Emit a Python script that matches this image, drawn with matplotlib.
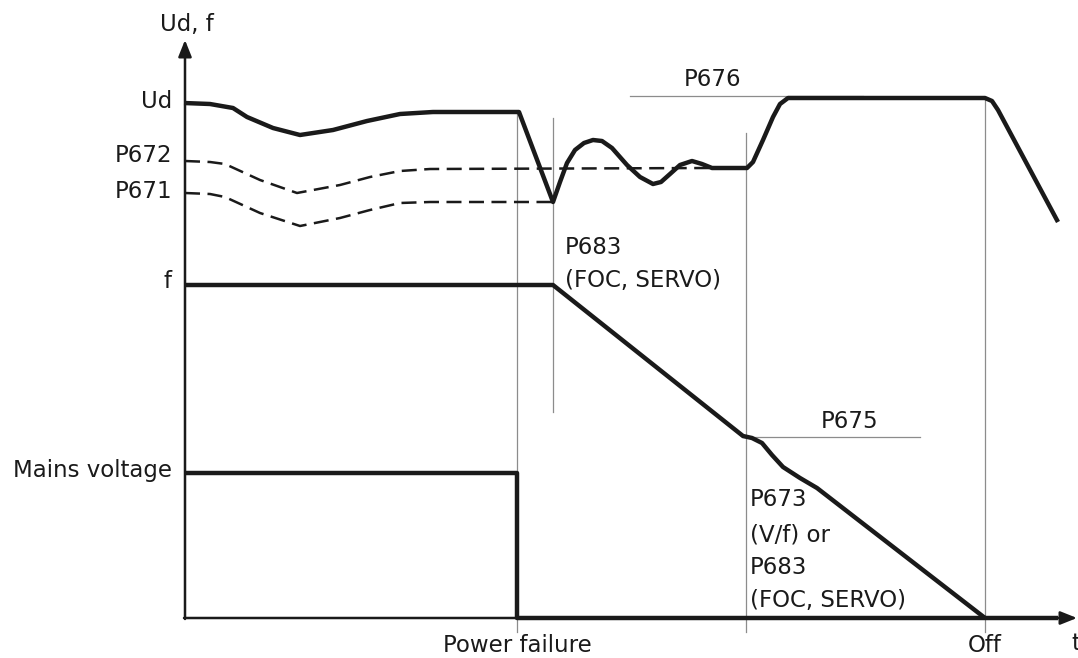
import matplotlib.pyplot as plt

plt.rcParams['font.family'] = 'DejaVu Sans'

# diagram drawn in a 1078 x 658 canvas frame (y grows downward)
# DC link voltage Ud over time
ud_t = [184, 210, 233, 247, 273, 300, 333, 367, 400, 433, 519, 553, 560, 567, 575, 584, 593, 602,
        612, 627, 640, 653, 661, 670, 680, 692, 702, 712, 747, 753, 763, 773, 780, 788, 985, 992,
        998, 1058]
ud_v = [103, 104, 108, 117, 128, 135, 130, 121, 114, 112, 112, 202, 182, 163, 150, 143, 140, 141,
        148, 165, 177, 184, 182, 174, 165, 161, 164, 168, 168, 162, 140, 117, 104, 98, 98, 101,
        110, 222]

# threshold P672 / P671 (dashed)
p672_t = [185, 210, 225, 260, 297, 340, 370, 400, 430, 710]
p672_v = [161, 162, 164, 180, 193, 185, 177, 171, 169, 168]
p671_t = [185, 210, 225, 260, 300, 340, 370, 400, 430, 553]
p671_v = [193, 194, 197, 213, 226, 218, 210, 203, 202, 202]

# output frequency f
f_t = [184, 553, 743, 752, 762, 772, 783, 800, 817, 985]
f_v = [285, 285, 436, 438, 443, 455, 467, 478, 488, 618]

# mains voltage
mains_t = [184, 517, 517, 1058]
mains_v = [473, 473, 618, 618]

# event markers (x, top, bottom)
events = [(517, 112, 632), (553, 118, 412), (746, 133, 632), (985, 98, 632)]
levels = [(630, 863, 96), (742, 920, 437)]

fig = plt.figure(figsize=(10.78, 6.58), dpi=100)
ax = fig.add_axes([0, 0, 1, 1])
ax.set_xlim(0, 1078)
ax.set_ylim(658, 0)
ax.axis('off')

gray = '#8c8c8c'
for x, y0, y1 in events:
    ax.plot([x, x], [y0, y1], color=gray, lw=0.9)
for x0, x1, y in levels:
    ax.plot([x0, x1], [y, y], color=gray, lw=0.9)

# axes with arrows
arrow = dict(arrowstyle='-|>,head_length=1.0,head_width=0.4', color='#1a1a1a', lw=1.8,
             shrinkA=0, shrinkB=0)
ax.annotate('', xy=(185, 40), xytext=(185, 619), arrowprops=arrow)
ax.annotate('', xy=(1077, 618), xytext=(184, 618), arrowprops=arrow)

dash = (0, (6, 3))
ax.plot(p672_t, p672_v, color='#1a1a1a', lw=1.8, linestyle=dash)
ax.plot(p671_t, p671_v, color='#1a1a1a', lw=1.8, linestyle=dash)

kw = dict(color='#1a1a1a', lw=3.2, solid_joinstyle='round', solid_capstyle='butt')
ax.plot(ud_t, ud_v, **kw)
ax.plot(f_t, f_v, **kw)
ax.plot(mains_t, mains_v, **kw)

fs = 16.5
tc = '#1a1a1a'
ax.text(187, 25, 'Ud, f', fontsize=fs, ha='center', va='center', color=tc)
ax.text(172, 101, 'Ud', fontsize=fs, ha='right', va='center', color=tc)
ax.text(172, 156, 'P672', fontsize=fs, ha='right', va='center', color=tc)
ax.text(172, 191, 'P671', fontsize=fs, ha='right', va='center', color=tc)
ax.text(172, 282, 'f', fontsize=fs, ha='right', va='center', color=tc)
ax.text(172, 470, 'Mains voltage', fontsize=fs, ha='right', va='center', color=tc)
ax.text(517, 645, 'Power failure', fontsize=fs, ha='center', va='center', color=tc)
ax.text(985, 645, 'Off', fontsize=fs, ha='center', va='center', color=tc)
ax.text(1071, 643, 't', fontsize=fs, ha='left', va='center', color=tc)
ax.text(713, 80, 'P676', fontsize=fs, ha='center', va='center', color=tc)
ax.text(850, 421, 'P675', fontsize=fs, ha='center', va='center', color=tc)
ax.text(565, 247, 'P683', fontsize=fs, ha='left', va='center', color=tc)
ax.text(565, 280, '(FOC, SERVO)', fontsize=fs, ha='left', va='center', color=tc)
for y, s in zip([500, 535, 568, 601], ['P673', '(V/f) or', 'P683', '(FOC, SERVO)']):
    ax.text(750, y, s, fontsize=fs, ha='left', va='center', color=tc)

fig.savefig('out.png', dpi=100, facecolor='white')
